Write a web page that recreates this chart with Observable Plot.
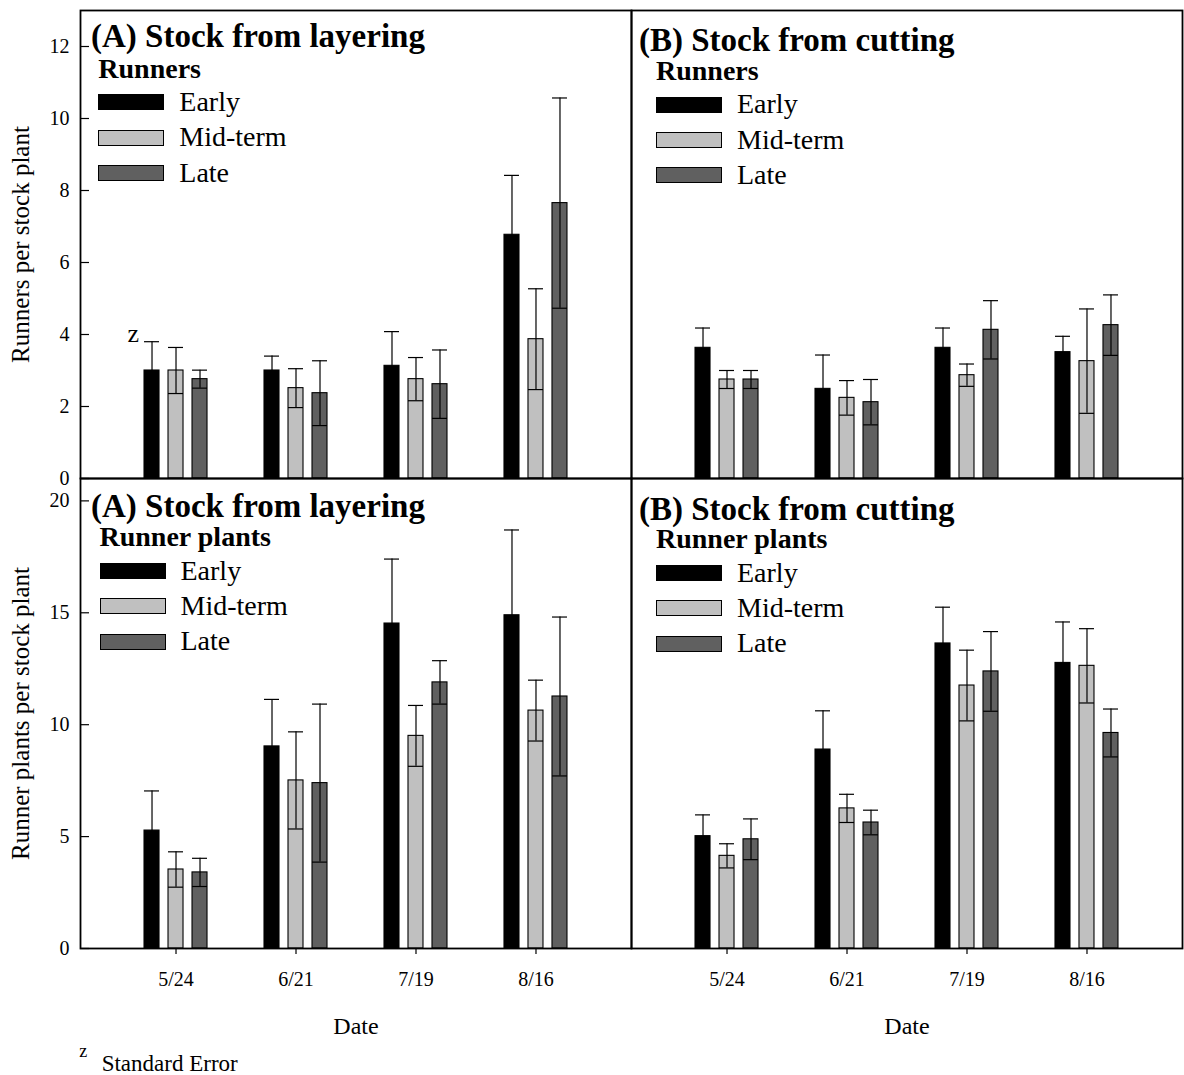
<!DOCTYPE html>
<html>
<head>
<meta charset="utf-8">
<script src="https://cdn.jsdelivr.net/npm/d3@7"></script>
<script src="https://cdn.jsdelivr.net/npm/@observablehq/plot@0.6"></script>
<style>
  body { margin: 0; background: #fff; }
  #fig { position: relative; width: 1184px; height: 1075px; font-family: "Liberation Serif", "Times New Roman", serif; color: #000; }
  #fig svg { position: absolute; overflow: visible; }
  .t { position: absolute; line-height: 1; white-space: nowrap; }
  .sw { position: absolute; box-sizing: border-box; border: 1.5px solid #000; }
</style>
</head>
<body>
<div id="fig"></div>
<script>
// Sampling dates and planting-time series
const dates = ["5/24", "6/21", "7/19", "8/16"];
const series = ["Early", "Mid-term", "Late"];
const seriesFill = ["#000000", "#c0c0c0", "#606060"];

// Runners per stock plant — stock from layering (mean and standard error)
const layerRunnersMean = { "Early": [3.0, 3.0, 3.13, 6.77], "Mid-term": [3.0, 2.51, 2.76, 3.87], "Late": [2.76, 2.37, 2.62, 7.65] };
const layerRunnersSE   = { "Early": [0.8, 0.4, 0.95, 1.65], "Mid-term": [0.64, 0.54, 0.6, 1.4], "Late": [0.25, 0.9, 0.95, 2.92] };

// Runners per stock plant — stock from cutting
const cutRunnersMean = { "Early": [3.63, 2.49, 3.63, 3.51], "Mid-term": [2.75, 2.24, 2.87, 3.26], "Late": [2.75, 2.12, 4.13, 4.26] };
const cutRunnersSE   = { "Early": [0.55, 0.94, 0.55, 0.44], "Mid-term": [0.25, 0.48, 0.31, 1.45], "Late": [0.25, 0.63, 0.81, 0.84] };

// Runner plants per stock plant — stock from layering
const layerPlantsMean = { "Early": [5.27, 9.03, 14.52, 14.89], "Mid-term": [3.53, 7.51, 9.5, 10.63], "Late": [3.40, 7.39, 11.89, 11.26] };
const layerPlantsSE   = { "Early": [1.77, 2.1, 2.88, 3.81], "Mid-term": [0.79, 2.17, 1.36, 1.36], "Late": [0.63, 3.53, 0.97, 3.55] };

// Runner plants per stock plant — stock from cutting
const cutPlantsMean = { "Early": [5.02, 8.89, 13.63, 12.76], "Mid-term": [4.14, 6.26, 11.75, 12.63], "Late": [4.88, 5.63, 12.38, 9.63] };
const cutPlantsSE   = { "Early": [0.95, 1.73, 1.62, 1.83], "Mid-term": [0.54, 0.63, 1.58, 1.66], "Late": [0.91, 0.55, 1.78, 1.07] };

// Axis ticks
const runnersTicks = [0, 2, 4, 6, 8, 10, 12];
const plantsTicks = [0, 5, 10, 15, 20];

const fig = document.getElementById("fig");

function toRows(mean, se) {
  return series.flatMap((s, k) => dates.map((d, i) => ({ date: d, i, s, k, v: mean[s][i], se: se[s][i] })));
}

// bar slot within a date group, in date-index units
const slot = [-0.2, 0, 0.2];
const half = 0.0625;
const cx = d => d.i + slot[d.k];

function panel(cfg) {
  const rows = toRows(cfg.mean, cfg.se);
  const innerW = cfg.width - cfg.marginLeft - cfg.marginRight;
  const marks = [];
  series.forEach((s, k) => {
    marks.push(Plot.rectY(rows.filter(r => r.k === k), {
      x1: d => cx(d) - half, x2: d => cx(d) + half, y1: 0, y2: "v",
      fill: seriesFill[k], stroke: "#000", strokeWidth: 1.1
    }));
  });
  // standard error bars with caps
  marks.push(Plot.ruleX(rows, { x: cx, y1: d => d.v - d.se, y2: d => d.v + d.se, stroke: "#000", strokeWidth: 1.2 }));
  marks.push(Plot.ruleY(rows, { y: d => d.v + d.se, x1: d => cx(d) - half, x2: d => cx(d) + half, stroke: "#000", strokeWidth: 1.2 }));
  marks.push(Plot.ruleY(rows, { y: d => d.v - d.se, x1: d => cx(d) - half, x2: d => cx(d) + half, stroke: "#000", strokeWidth: 1.2 }));

  if (cfg.yAxis) {
    marks.push(Plot.tickY(cfg.ticks, { y: d => d, insetRight: innerW - 9, stroke: "#000", strokeWidth: 1.2 }));
    marks.push(Plot.axisY({ ticks: cfg.ticks, tickSize: 0, tickPadding: 11, fontSize: 20, label: null }));
    marks.push(Plot.text([cfg.yLabel], { frameAnchor: "left", dx: -60, rotate: -90, fontSize: 25, lineAnchor: "middle", textAnchor: "middle" }));
  }
  if (cfg.xAxis) {
    marks.push(Plot.axisX({ ticks: [0, 1, 2, 3], tickFormat: i => dates[i], tickSize: 6, tickPadding: 17, fontSize: 20, strokeWidth: 1.2, label: null }));
    marks.push(Plot.text(["Date"], { frameAnchor: "bottom", dy: 85, lineAnchor: "bottom", fontSize: 24 }));
  }
  if (cfg.zNote) {
    const zRows = rows.filter(r => r.i === 0 && r.k === 0);
    marks.push(Plot.text(zRows, { x: cx, y: d => d.v + d.se, text: () => "z", dx: -13, textAnchor: "end", lineAnchor: "bottom", fontSize: 26 }));
  }
  marks.push(Plot.text([cfg.title], { frameAnchor: "top-left", dx: cfg.titleDx, dy: cfg.titleDy, lineAnchor: "bottom", textAnchor: "start", fontSize: 33, fontWeight: "bold" }));
  marks.push(Plot.frame({ stroke: "#000", strokeWidth: 1.8 }));

  const svg = Plot.plot({
    width: cfg.width, height: cfg.height,
    marginLeft: cfg.marginLeft, marginRight: cfg.marginRight,
    marginTop: cfg.marginTop, marginBottom: cfg.marginBottom,
    x: { type: "linear", domain: [-0.796, 3.796], axis: null, label: null },
    y: { domain: cfg.yDomain, axis: null, label: null },
    style: { background: "transparent", overflow: "visible", fontFamily: "'Liberation Serif', 'Times New Roman', serif", color: "#000" },
    marks
  });
  svg.style.left = cfg.left + "px";
  svg.style.top = cfg.top + "px";
  fig.appendChild(svg);
}

function addText(str, x, baseline, size, weight) {
  const el = document.createElement("div");
  el.className = "t";
  el.textContent = str;
  el.style.left = x + "px";
  el.style.top = (baseline - 0.8375 * size) + "px";
  el.style.fontSize = size + "px";
  if (weight) el.style.fontWeight = weight;
  fig.appendChild(el);
}

function legend(header, x, headerBase, swTop) {
  addText(header, x, headerBase, 28, "bold");
  series.forEach((s, k) => {
    const top = swTop + k * 35.3;
    const sw = document.createElement("div");
    sw.className = "sw";
    sw.style.left = x + "px";
    sw.style.top = top + "px";
    sw.style.width = "66px";
    sw.style.height = "16px";
    sw.style.background = seriesFill[k];
    fig.appendChild(sw);
    addText(s, x + 81, top + 17.2, 28);
  });
}

const topRow = { top: 0, height: 480, marginTop: 10, marginBottom: 2, yDomain: [0, 13], ticks: runnersTicks };
const botRow = { top: 468, height: 607, marginTop: 10, marginBottom: 127, yDomain: [0, 21], ticks: plantsTicks };
const leftCol = { left: 0, width: 631, marginLeft: 80, marginRight: 0, yAxis: true, titleDx: 10.5 };
const rightCol = { left: 631, width: 553, marginLeft: 0, marginRight: 2, yAxis: false, titleDx: 7.5 };

panel({ ...topRow, ...leftCol, mean: layerRunnersMean, se: layerRunnersSE, title: "(A) Stock from layering", titleDy: 36.7, yLabel: "Runners per stock plant", xAxis: false, zNote: true });
panel({ ...topRow, ...rightCol, mean: cutRunnersMean, se: cutRunnersSE, title: "(B) Stock from cutting", titleDy: 40, xAxis: false });
panel({ ...botRow, ...leftCol, mean: layerPlantsMean, se: layerPlantsSE, title: "(A) Stock from layering", titleDy: 38.4, yLabel: "Runner plants per stock plant", xAxis: true });
panel({ ...botRow, ...rightCol, mean: cutPlantsMean, se: cutPlantsSE, title: "(B) Stock from cutting", titleDy: 41.7, xAxis: true });

legend("Runners", 98.3, 78.3, 94.3);
legend("Runners", 656, 80, 96.5);
legend("Runner plants", 99.5, 546, 563);
legend("Runner plants", 656, 548.3, 565);

// footnote for the error bar marker
addText("z", 79.3, 1056.7, 18);
addText("Standard Error", 101.7, 1071.7, 23);
</script>
</body>
</html>
